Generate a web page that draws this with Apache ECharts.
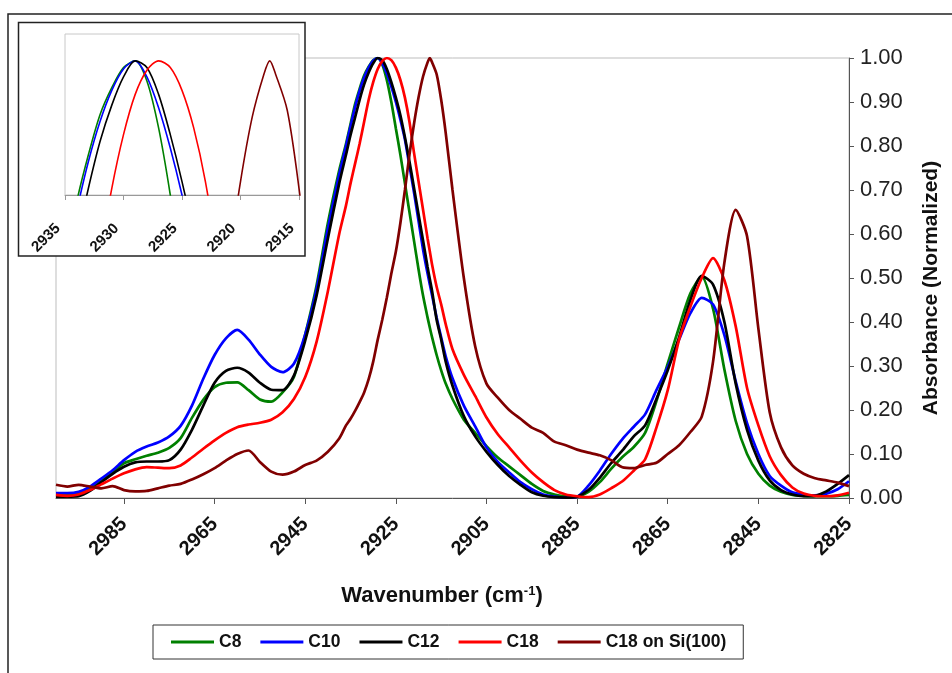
<!DOCTYPE html>
<html><head><meta charset="utf-8">
<script src="https://cdn.jsdelivr.net/npm/echarts@6/dist/echarts.min.js"></script>
<style>html,body{margin:0;padding:0;background:#fff}#c{width:952px;height:673px}</style>
</head><body><div id="c"></div>
<script>
// Wavenumber grid (cm-1)
const wavenumbers = [3000,2997.5,2995,2992.5,2990,2987.5,2985,2982.5,2980,2977.5,2975,2972.5,2970,2967.5,2965,2962.5,2960,2957.5,2955,2952.5,2950,2947.5,2945,2942.5,2940,2937.5,
2936,2935,2934,2933,2932,2931,2930,2929,2928,2927,2926,2925,2924,2923,2922,2921,2920,2919,2918,2917.5,2917,2916,2915,2914,
2912.5,2910,2907.5,2905,2902.5,2900,2897.5,2895,2892.5,2890,2887.5,2885,2882.5,2880,2877.5,2875,2872.5,2870,2867.5,2865,2862.5,2860,2857.5,2855,2852.5,2850,2847.5,2845,2842.5,2840,2837.5,2835,2832.5,2830,2827.5,2825];

const c8 = [0.007,0.007,0.010,0.022,0.040,0.059,0.079,0.088,0.096,0.103,0.114,0.136,0.182,0.223,0.252,0.262,0.263,0.245,0.224,0.219,0.240,0.275,0.372,0.483,0.625,0.745,
0.805,0.85,0.895,0.93,0.96,0.98,0.995,1.0,0.985,0.95,0.9,0.84,0.78,0.715,0.65,0.585,0.52,0.46,0.41,0.387,0.365,0.325,0.29,0.26,
0.225,0.178,0.148,0.118,0.092,0.072,0.052,0.032,0.016,0.008,0.004,0.004,0.014,0.036,0.066,0.093,0.116,0.148,0.22,0.306,0.388,0.465,0.503,0.43,0.292,0.175,0.1,0.055,0.028,0.014,0.007,0.005,0.004,0.004,0.005,0.007];

const c10 = [0.011,0.011,0.014,0.026,0.044,0.063,0.086,0.105,0.117,0.126,0.140,0.164,0.210,0.271,0.325,0.363,0.382,0.36,0.326,0.298,0.286,0.305,0.372,0.475,0.612,0.735,
0.80,0.845,0.888,0.925,0.955,0.978,0.994,1.0,0.988,0.965,0.935,0.90,0.86,0.815,0.755,0.695,0.63,0.565,0.51,0.485,0.46,0.41,0.365,0.322,
0.272,0.21,0.163,0.115,0.082,0.058,0.036,0.02,0.008,0.003,0.001,0.003,0.028,0.062,0.10,0.134,0.162,0.19,0.245,0.298,0.36,0.42,0.455,0.44,0.37,0.265,0.17,0.10,0.05,0.028,0.013,0.008,0.006,0.01,0.02,0.038];

const c12 = [0.003,0.003,0.004,0.016,0.036,0.055,0.071,0.081,0.083,0.083,0.086,0.11,0.155,0.21,0.262,0.289,0.296,0.285,0.262,0.246,0.245,0.278,0.358,0.46,0.59,0.715,
0.78,0.825,0.865,0.905,0.94,0.967,0.988,1.0,0.995,0.975,0.945,0.91,0.87,0.82,0.765,0.705,0.645,0.585,0.525,0.497,0.47,0.405,0.36,0.31,
0.255,0.186,0.14,0.105,0.075,0.05,0.03,0.013,0.005,0.002,0.001,0.003,0.018,0.046,0.079,0.108,0.14,0.165,0.225,0.29,0.365,0.45,0.505,0.485,0.40,0.26,0.155,0.085,0.04,0.018,0.008,0.004,0.005,0.015,0.032,0.052];

const c18 = [0.007,0.005,0.008,0.018,0.031,0.044,0.056,0.065,0.07,0.069,0.068,0.074,0.092,0.112,0.131,0.148,0.161,0.167,0.171,0.178,0.195,0.225,0.275,0.355,0.47,0.60,
0.665,0.715,0.76,0.805,0.855,0.905,0.945,0.975,0.993,1.0,0.995,0.978,0.95,0.91,0.855,0.785,0.72,0.655,0.59,0.56,0.53,0.48,0.44,0.395,
0.338,0.28,0.232,0.183,0.145,0.115,0.085,0.058,0.036,0.018,0.008,0.004,0.002,0.008,0.022,0.038,0.062,0.088,0.16,0.245,0.36,0.435,0.50,0.545,0.495,0.39,0.25,0.165,0.095,0.052,0.024,0.01,0.005,0.004,0.006,0.012];

const c18Si = [0.03,0.026,0.03,0.026,0.022,0.027,0.018,0.015,0.016,0.022,0.028,0.032,0.042,0.054,0.068,0.085,0.1,0.108,0.082,0.06,0.053,0.06,0.075,0.085,0.105,0.135,
0.165,0.18,0.198,0.218,0.24,0.27,0.31,0.36,0.405,0.455,0.51,0.56,0.625,0.70,0.78,0.85,0.91,0.958,0.99,1.0,0.99,0.963,0.905,0.83,
0.70,0.50,0.345,0.26,0.228,0.2,0.18,0.16,0.148,0.128,0.12,0.11,0.103,0.097,0.086,0.07,0.068,0.075,0.08,0.1,0.12,0.15,0.185,0.31,0.535,0.655,0.595,0.385,0.195,0.115,0.074,0.055,0.045,0.04,0.035,0.027];

const seriesNames = ['C8','C10','C12','C18','C18 on Si(100)'];
const seriesColors = ['#008000','#0000ff','#000000','#ff0000','#800000'];
const seriesValues = [c8, c10, c12, c18, c18Si];

const mainXTicks = [2985,2965,2945,2925,2905,2885,2865,2845,2825];

const FONT = '"Liberation Sans", Arial, sans-serif';

const chart = echarts.init(document.getElementById('c'), null, {renderer:'canvas'});

const series = [];
seriesValues.forEach((vals, k) => {
  const pts = wavenumbers.map((w, i) => [w, vals[i]]);
  series.push({
    name: seriesNames[k], type: 'line', xAxisIndex: 0, yAxisIndex: 0,
    data: pts, symbol: 'none', smooth: 0.25, clip: true, z: 2 + k * 0.01,
    lineStyle: {color: seriesColors[k], width: 2.7}, itemStyle: {color: seriesColors[k]}
  });
});
seriesValues.forEach((vals, k) => {
  const pts = wavenumbers.map((w, i) => [w, vals[i]]);
  series.push({
    name: seriesNames[k], type: 'line', xAxisIndex: 1, yAxisIndex: 1,
    data: pts, symbol: 'none', smooth: 0.3, clip: true, z: 12 + k * 0.01,
    lineStyle: {color: seriesColors[k], width: 1.6}, itemStyle: {color: seriesColors[k]}
  });
});

chart.setOption({
  animation: false,
  backgroundColor: '#fff',
  grid: [
    {left: 56, top: 58, width: 793, height: 440, show: true, borderColor: '#bdbdbd', borderWidth: 1, z: 0},
    {left: 65, top: 34, width: 234, height: 161, show: true, borderColor: '#c8c8c8', borderWidth: 1, z: 10}
  ],
  xAxis: [
    {gridIndex: 0, type: 'value', inverse: true, min: 2825, max: 3000,
     axisLine: {show: true, onZero: false, lineStyle: {color: '#555', width: 1}},
     axisTick: {show: true, length: 6, lineStyle: {color: '#555'}, customValues: mainXTicks},
     axisLabel: {customValues: mainXTicks, rotate: 45, margin: 23, fontFamily: FONT, fontWeight: 'bold', fontSize: 20, color: '#111',
       formatter: v => String(v)},
     splitLine: {show: false}},
    {gridIndex: 1, type: 'value', inverse: true, min: 2915, max: 2935, interval: 5, z: 10,
     axisLine: {show: true, onZero: false, lineStyle: {color: '#999', width: 1}},
     axisTick: {show: true, length: 5, lineStyle: {color: '#999'}},
     axisLabel: {rotate: 45, margin: 24, padding: [0, 10, 0, 0], fontFamily: FONT, fontWeight: 'bold', fontSize: 15, color: '#111',
       formatter: v => String(v)},
     splitLine: {show: false}}
  ],
  yAxis: [
    {gridIndex: 0, type: 'value', position: 'right', min: 0, max: 1, interval: 0.1,
     axisLine: {show: true, lineStyle: {color: '#555', width: 1}},
     axisTick: {show: true, length: 5, lineStyle: {color: '#555'}},
     axisLabel: {margin: 11, fontFamily: FONT, fontSize: 22, color: '#222', formatter: v => v.toFixed(2)},
     splitLine: {show: false}},
    {gridIndex: 1, type: 'value', min: 0.9, max: 1.02, z: 10,
     axisLine: {show: false}, axisTick: {show: false}, axisLabel: {show: false}, splitLine: {show: false}}
  ],
  legend: {
    data: seriesNames, left: 153, top: 625, orient: 'horizontal', icon: 'rect',
    itemWidth: 43, itemHeight: 3, itemGap: 19, padding: [8, 17, 8, 18],
    borderColor: '#333', borderWidth: 1, backgroundColor: '#fff',
    textStyle: {fontFamily: FONT, fontWeight: 'bold', fontSize: 17.5, color: '#111', lineHeight: 17}
  },
  graphic: [
    {type: 'rect', silent: true, z: 1, shape: {x: 8, y: 14, width: 1000, height: 700},
     style: {fill: 'none', stroke: '#222', lineWidth: 1.5}},
    {type: 'rect', silent: true, z: 5, shape: {x: 18.5, y: 22.5, width: 286.5, height: 233.5},
     style: {fill: '#fff', stroke: '#222', lineWidth: 1.5}},
    {type: 'text', silent: true, z: 5, x: 442, y: 596,
     style: {text: 'Wavenumber (cm{s|-1})', font: 'bold 22px ' + FONT, fill: '#111',
       align: 'center', verticalAlign: 'middle', textAlign: 'center', textVerticalAlign: 'middle',
       rich: {s: {font: 'bold 13px ' + FONT, fill: '#111', verticalAlign: 'top'}}}},
    {type: 'text', silent: true, z: 5, x: 931, y: 288, rotation: Math.PI / 2,
     style: {text: 'Absorbance (Normalized)', font: 'bold 21px ' + FONT, fill: '#111',
       align: 'center', verticalAlign: 'middle', textAlign: 'center', textVerticalAlign: 'middle'}}
  ],
  series: series
});
</script>
</body></html>
